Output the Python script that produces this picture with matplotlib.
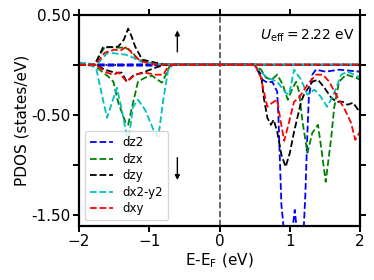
import matplotlib
matplotlib.use("Agg")
import matplotlib.pyplot as plt

# ---- data ----
orbitals = ["dz2", "dzx", "dzy", "dx2-y2", "dxy"]
colors = ["blue", "green", "black", "c", "red"]

# spin up (positive)
dz2_up_E = [-2.0, -1.8, -1.7, -1.0, -0.8, 2.0]
dz2_up_D = [0.0, 0.0, 0.003, 0.003, 0.0, 0.0]
dzx_up_E = [-2.0, -1.78, -1.70, -1.63, -1.49, -1.34, -1.25, -1.15, -1.05, -0.95, -0.85, 2.0]
dzx_up_D = [0.0, 0.0, 0.10, 0.18, 0.17, 0.17, 0.13, 0.05, 0.03, 0.01, 0.0, 0.0]
dzy_up_E = [-2.0, -1.77, -1.66, -1.44, -1.36, -1.30, -1.25, -1.20, -1.10, -0.91, -0.77, 2.0]
dzy_up_D = [0.0, 0.0, 0.17, 0.18, 0.25, 0.36, 0.28, 0.18, 0.05, 0.02, 0.0, 0.0]
dx2y2_up_E = [-2.0, -1.85, -1.75, -1.59, -1.46, -1.34, -1.23, -1.12, -0.95, -0.8, 2.0]
dx2y2_up_D = [0.02, 0.01, 0.0, 0.12, 0.11, 0.10, 0.07, 0.03, 0.01, 0.0, 0.0]
dxy_up_E = [-2.0, -1.77, -1.63, -1.49, -1.41, -1.32, -1.23, -1.13, -1.0, -0.85, 2.0]
dxy_up_D = [0.0, 0.0, 0.12, 0.15, 0.14, 0.18, 0.10, 0.04, 0.01, 0.0, 0.0]

# spin down (negative)
dz2_dn_E = [-2.0, -1.8, -1.7, -0.9, -0.75, 0.5, 0.61, 0.68, 0.75, 0.82, 0.84, 0.88,
            0.95, 1.02, 1.07, 1.12, 1.18, 1.22, 1.25, 1.27, 1.32, 1.37, 1.51, 1.70, 1.99, 2.0]
dz2_dn_D = [0.0, 0.0, -0.01, -0.01, 0.0, 0.0, -0.15, -0.18, -0.17, -0.27, -0.57, -1.4,
            -1.9, -1.75, -1.45, -1.8, -1.9, -1.3, -0.67, -0.33, -0.10, -0.05, -0.07, -0.05, -0.07, -0.07]
dzx_dn_E = [-2.0, -1.78, -1.58, -1.51, -1.44, -1.34, -1.30, -1.23, -1.16, -1.06, -0.96,
            -0.82, -0.75, -0.70, 0.5, 0.59, 0.66, 0.74, 0.82, 0.90, 0.97, 1.03, 1.09, 1.13,
            1.18, 1.25, 1.32, 1.40, 1.45, 1.51, 1.59, 1.63, 1.70, 1.80, 1.94, 2.0]
dzx_dn_D = [0.0, -0.01, -0.12, -0.17, -0.38, -0.57, -0.60, -0.38, -0.17, -0.13, -0.11,
            -0.18, -0.08, 0.0, 0.0, -0.05, -0.13, -0.15, -0.10, -0.20, -0.35, -0.25, -0.17, -0.27,
            -0.57, -0.88, -0.68, -0.60, -0.85, -1.17, -0.72, -0.43, -0.17, -0.10, -0.13, -0.15]
dzy_dn_E = [-2.0, -1.77, -1.63, -1.49, -1.39, -1.32, -1.23, -1.10, -0.91, -0.77, 0.5,
            0.59, 0.63, 0.68, 0.73, 0.77, 0.82, 0.88, 0.94, 1.0, 1.06, 1.16, 1.20, 1.32,
            1.40, 1.49, 1.59, 1.66, 1.75, 1.82, 1.90, 1.99, 2.0]
dzy_dn_D = [0.0, 0.0, -0.05, -0.08, -0.08, -0.17, -0.11, -0.08, -0.03, 0.0, 0.0,
            -0.10, -0.33, -0.53, -0.60, -0.55, -0.67, -0.90, -1.02, -0.88, -0.67, -0.37, -0.30, -0.17,
            -0.15, -0.23, -0.33, -0.37, -0.37, -0.40, -0.38, -0.47, -0.47]
dx2y2_dn_E = [-2.0, -1.85, -1.75, -1.68, -1.60, -1.53, -1.46, -1.39, -1.30, -1.23, -1.16,
              -1.06, -0.94, -0.87, -0.80, -0.73, -0.66, 0.5, 0.58, 0.68, 0.82, 0.94, 0.99,
              1.06, 1.16, 1.25, 1.35, 1.44, 1.53, 1.61, 1.73, 1.82, 1.97, 2.0]
dx2y2_dn_D = [0.02, 0.01, -0.05, -0.28, -0.53, -0.38, -0.23, -0.45, -0.78, -0.42, -0.35,
              -0.45, -0.65, -0.72, -0.35, -0.05, 0.0, 0.0, -0.07, -0.13, -0.17, -0.28, -0.30,
              -0.05, -0.15, -0.30, -0.25, -0.32, -0.42, -0.32, -0.10, -0.07, -0.12, -0.12]
dxy_dn_E = [-2.0, -1.77, -1.60, -1.51, -1.43, -1.32, -1.20, -1.06, -0.91, -0.80, -0.73,
            -0.66, 0.5, 0.59, 0.63, 0.68, 0.75, 0.82, 0.87, 0.92, 0.99, 1.06, 1.13, 1.25,
            1.37, 1.47, 1.56, 1.68, 1.77, 1.87, 1.93, 1.99, 2.0]
dxy_dn_D = [0.0, 0.0, -0.08, -0.10, -0.08, -0.17, -0.10, -0.08, -0.10, -0.10, -0.02,
            0.0, 0.0, -0.13, -0.27, -0.42, -0.38, -0.35, -0.57, -0.76, -0.57, -0.37, -0.33, -0.20,
            -0.10, -0.10, -0.17, -0.33, -0.43, -0.58, -0.75, -0.68, -0.68]

up_E = [dz2_up_E, dzx_up_E, dzy_up_E, dx2y2_up_E, dxy_up_E]
up_D = [dz2_up_D, dzx_up_D, dzy_up_D, dx2y2_up_D, dxy_up_D]
dn_E = [dz2_dn_E, dzx_dn_E, dzy_dn_E, dx2y2_dn_E, dxy_dn_E]
dn_D = [dz2_dn_D, dzx_dn_D, dzy_dn_D, dx2y2_dn_D, dxy_dn_D]

y_ticks = [0.5, 0.0, -0.5, -1.0, -1.5]
y_ticklabels = ["0.50", "", "-0.50", "", "-1.50"]
x_ticks = [-2, -1, 0, 1, 2]

# ---- plot ----
fig = plt.figure(figsize=(3.74, 2.80), dpi=100)
ax = fig.add_axes([0.211, 0.193, 0.752, 0.755])

ax.axhline(0, color="black", lw=1.2, ls=":", zorder=1)
ax.axvline(0, color="0.3", lw=1.2, ls="--", zorder=1)

for name, c, ue, ud, de, dd in zip(orbitals, colors, up_E, up_D, dn_E, dn_D):
    ax.plot(de, dd, ls="--", color=c, lw=1.3, label=name, zorder=2)
    ax.plot(ue, ud, ls="--", color=c, lw=1.3, zorder=2)

ax.set_xlim(-2, 2)
ax.set_ylim(-1.61, 0.5)
ax.set_xticks(x_ticks)
ax.set_yticks(y_ticks)
ax.set_yticklabels(y_ticklabels)

for s in ax.spines.values():
    s.set_linewidth(1.6)
ax.tick_params(direction="out", length=4, width=1.4, labelsize=11,
               top=True, right=True, pad=2)

ax.set_xlabel(r"E-E$_\mathrm{F}$ (eV)", fontsize=11, labelpad=2)
ax.set_ylabel("PDOS (states/eV)", fontsize=11, labelpad=1)

ax.annotate("", xy=(-0.6, 0.37), xytext=(-0.6, 0.1),
            arrowprops=dict(arrowstyle="-|>", color="black", lw=1.0, mutation_scale=7))
ax.annotate("", xy=(-0.6, -1.18), xytext=(-0.6, -0.9),
            arrowprops=dict(arrowstyle="-|>", color="black", lw=1.0, mutation_scale=7))

ax.text(0.98, 0.86, r"$U_\mathrm{eff}=2.22$ eV", transform=ax.transAxes,
        ha="right", va="bottom", fontsize=10)

ax.legend(loc="lower left", fontsize=8.5, handlelength=2.0, labelspacing=0.3,
          borderpad=0.4, handletextpad=0.8, bbox_to_anchor=(0.0, 0.0))

fig.savefig("out.png", dpi=100)
